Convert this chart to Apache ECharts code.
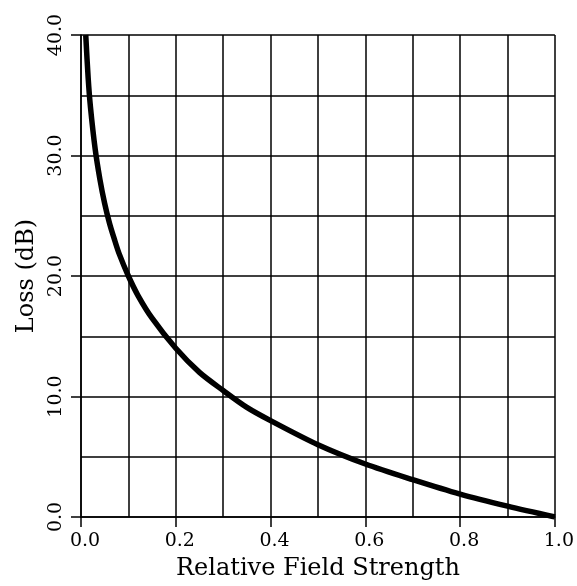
<!DOCTYPE html>
<html>
<head>
<meta charset="utf-8">
<script src="https://cdn.jsdelivr.net/npm/echarts@6/dist/echarts.min.js"></script>
<style>
  html, body { margin: 0; padding: 0; background: #fff; }
  #chart { width: 577px; height: 586px; }
</style>
</head>
<body>
<div id="chart"></div>
<script>
// values
const relField = [0.01, 0.015, 0.02, 0.03, 0.04, 0.05, 0.06, 0.07, 0.08, 0.1, 0.12, 0.15, 0.2, 0.25, 0.3, 0.35, 0.4, 0.5, 0.6, 0.7, 0.8, 0.9, 1.0]
const lossDb = [40, 36.5, 34, 30.5, 28, 26, 24.4, 23.1, 21.9, 20, 18.4, 16.5, 14, 12, 10.5, 9.1, 8, 6, 4.4, 3.1, 1.9, 0.9, 0]
const xTicks = ['0.0', '0.2', '0.4', '0.6', '0.8', '1.0']
const yTicks = ['0.0', '10.0', '20.0', '30.0', '40.0']

const font = 'DejaVu Serif'
const ink = '#000'

const points = []
for (let i = 0; i < relField.length; i++) {
  points.push([relField[i], lossDb[i]])
}

const chart = echarts.init(document.getElementById('chart'))
chart.setOption({
  backgroundColor: '#fff',
  animation: false,
  grid: {
    left: 81,
    right: 20,
    top: 35,
    bottom: 69
  },
  xAxis: {
    type: 'value',
    min: 0,
    max: 1,
    interval: 0.2,
    name: 'Relative Field Strength',
    nameLocation: 'middle',
    nameGap: 40,
    nameTextStyle: { fontFamily: font, fontSize: 24, color: ink },
    axisLine: { lineStyle: { color: ink, width: 1.5 } },
    axisTick: { length: 10, lineStyle: { color: ink, width: 1.5 } },
    axisLabel: {
      margin: 15,
      padding: [0, 0, 0, 8],
      fontFamily: font,
      fontSize: 19,
      color: ink,
      formatter: function(v) { return xTicks[Math.round(v / 0.2)] }
    },
    splitLine: { show: true, lineStyle: { color: ink, width: 1.5 } },
    minorTick: { show: false, splitNumber: 2 },
    minorSplitLine: { show: true, lineStyle: { color: ink, width: 1.5 } }
  },
  yAxis: {
    type: 'value',
    min: 0,
    max: 40,
    interval: 10,
    name: 'Loss (dB)',
    nameLocation: 'middle',
    nameGap: 40,
    nameTextStyle: { fontFamily: font, fontSize: 24, color: ink },
    axisLine: { show: true, lineStyle: { color: ink, width: 1.5 } },
    axisTick: { show: true, length: 10, lineStyle: { color: ink, width: 1.5 } },
    axisLabel: {
      rotate: 90,
      margin: 15,
      fontFamily: font,
      fontSize: 19,
      color: ink,
      formatter: function(v) { return yTicks[Math.round(v / 10)] }
    },
    splitLine: { show: true, lineStyle: { color: ink, width: 1.5 } },
    minorTick: { show: false, splitNumber: 2 },
    minorSplitLine: { show: true, lineStyle: { color: ink, width: 1.5 } }
  },
  series: [{
    type: 'line',
    data: points,
    smooth: 0.3,
    showSymbol: false,
    clip: true,
    lineStyle: { color: ink, width: 5.5 }
  }]
})
</script>
</body>
</html>
